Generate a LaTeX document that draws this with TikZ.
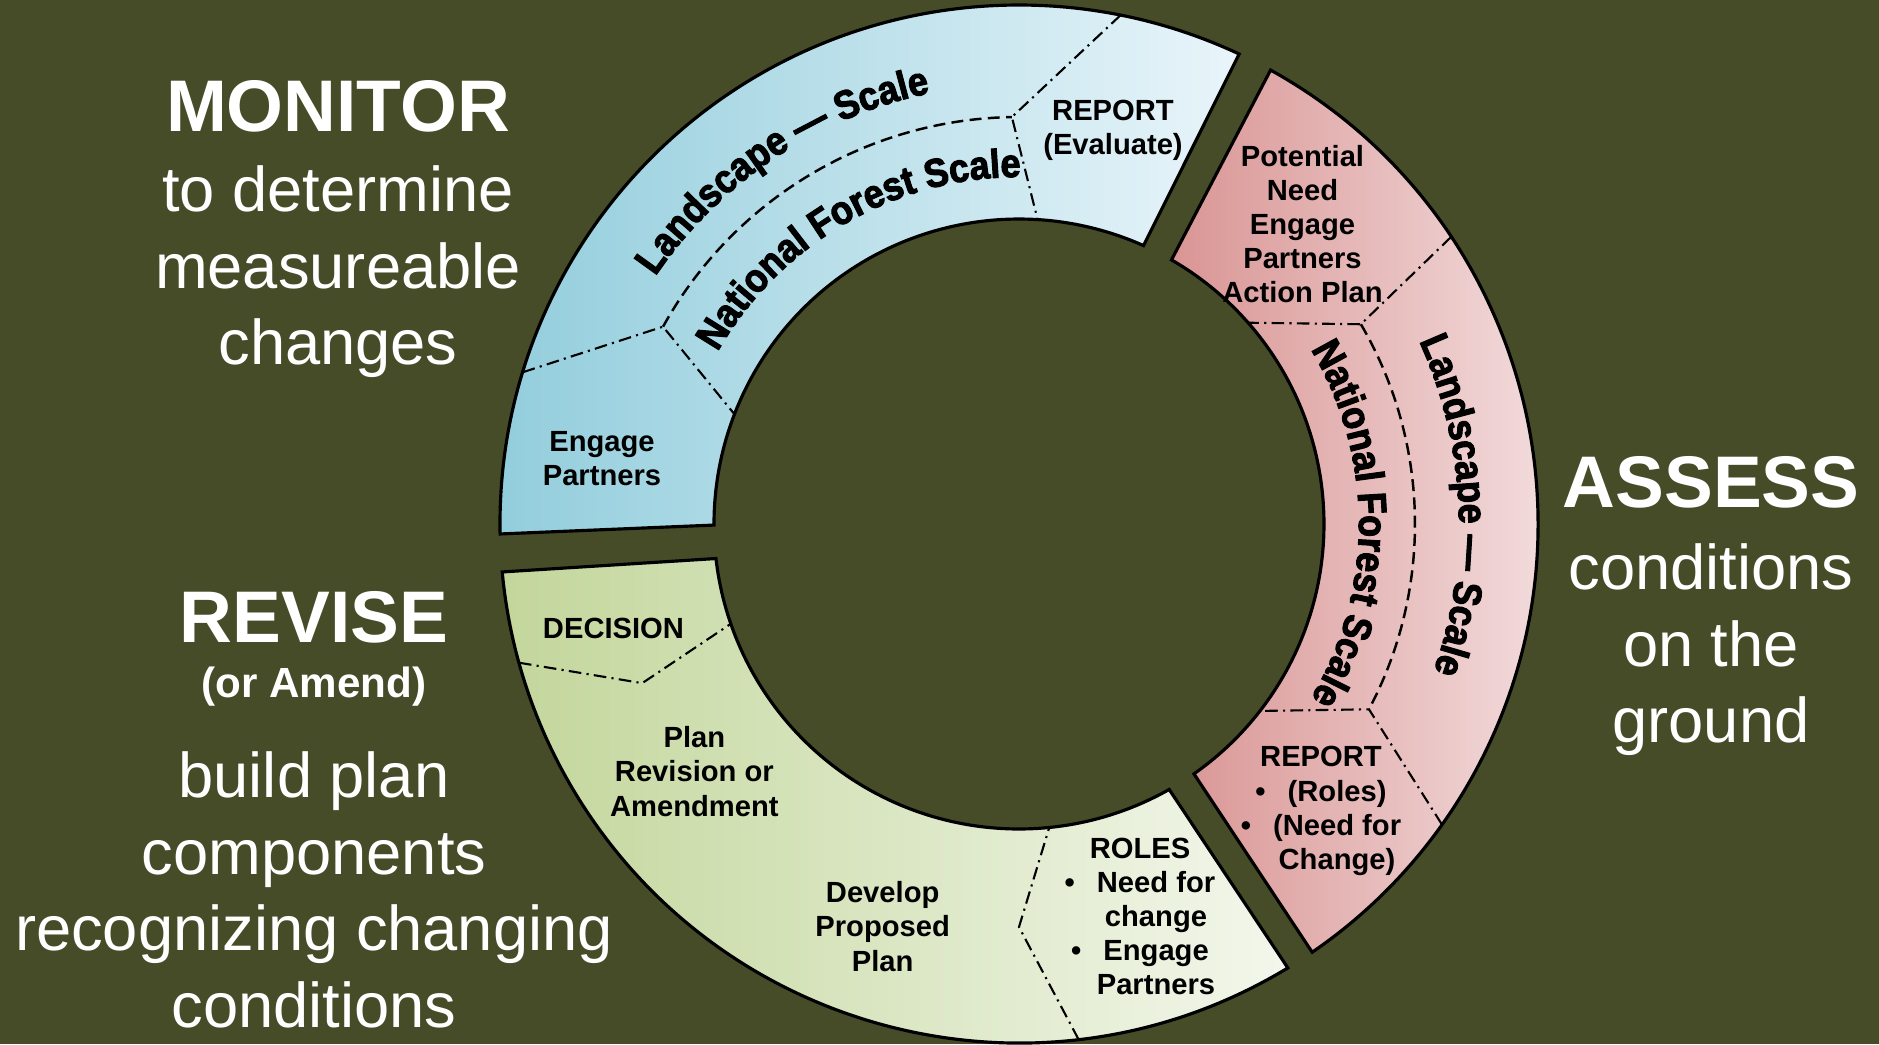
\documentclass[tikz,border=0pt]{standalone}
\usepackage{fontspec}
\setmainfont{Liberation Sans}
\newfontfamily\arcfamily{Liberation Sans}[FakeStretch=0.9, BoldFeatures={FakeBold=2.6}]
\usetikzlibrary{decorations.text}

\definecolor{olivebg}{RGB}{71,76,40}
\definecolor{blueleft}{RGB}{146,205,220}
\definecolor{blueright}{RGB}{233,245,250}
\definecolor{pinkleft}{RGB}{217,149,148}
\definecolor{pinkright}{RGB}{247,232,233}
\definecolor{greenleft}{RGB}{195,214,155}
\definecolor{greenright}{RGB}{243,247,236}

\newcommand{\rin}{3.05}
\newcommand{\rout}{5.19}
\newcommand{\arcfont}{\arcfamily\fontsize{11.4}{12}\selectfont\bfseries}

\tikzset{
  ringpart/.style={draw=black, line width=0.9pt},
  divider/.style={black, line width=0.6pt, dash pattern=on 3.6pt off 1.5pt on 0.6pt off 1.5pt},
  scaleline/.style={black, line width=0.7pt, dash pattern=on 3.4pt off 1.8pt},
  ringlabel/.style={align=center, inner sep=0pt, font=\fontsize{8.3}{9.7}\selectfont\bfseries},
  bigtitle/.style={white, inner sep=0pt, font=\fontsize{20.8}{24}\selectfont\bfseries},
  subtitle/.style={white, align=center, inner sep=0pt, font=\fontsize{18}{21.8}\selectfont},
  arctext/.style={decorate, decoration={text along path, text align=center, text={|\arcfont|#1}}}
}

\begin{document}
\begin{tikzpicture}
    \path[fill=olivebg, use as bounding box] (-10.19,-5.20) rectangle (8.60,5.24);

    % the three parts of the ring
    \draw[ringpart, left color=blueleft, right color=blueright]
        (181.1:\rout) arc[start angle=181.1, end angle=64.9, radius=\rout]
        -- (65.9:\rin) arc[start angle=65.9, end angle=180.2, radius=\rin] -- cycle;
    \draw[ringpart, left color=pinkleft, right color=pinkright]
        (61:\rout) arc[start angle=61, end angle=-55.6, radius=\rout]
        -- (-55:\rin) arc[start angle=-55, end angle=60, radius=\rin] -- cycle;
    \draw[ringpart, left color=greenleft, right color=greenright]
        (-58.8:\rout) arc[start angle=-58.8, end angle=-174.7, radius=\rout]
        -- (-173.5:\rin) arc[start angle=-173.5, end angle=-60.5, radius=\rin] -- cycle;

    % corners where the dividers meet
    \coordinate (reportcorner) at (91:4.07);
    \coordinate (engagecorner) at (151:4.07);
    \coordinate (needcorner) at (30.3:3.96);
    \coordinate (rolescorner) at (-27.9:3.96);
    \coordinate (decisioncorner) at (202.9:4.09);
    \coordinate (proposedcorner) at (270:4.03);

    \draw[scaleline] (engagecorner) arc[start angle=151, end angle=91, radius=4.07];
    \draw[scaleline] (needcorner) arc[start angle=30.3, end angle=-27.9, radius=3.96];

    \draw[divider] (78.7:\rout) -- (reportcorner) -- (86.5:\rin);
    \draw[divider] (163:\rout) -- (engagecorner) -- (158.9:\rin);
    \draw[divider] (33.6:\rout) -- (needcorner) -- (41.3:\rin);
    \draw[divider] (-35.4:\rout) -- (rolescorner) -- (-37.8:\rin);
    \draw[divider] (195.5:\rout) -- (decisioncorner) -- (199.1:\rin);
    \draw[divider] (276.6:\rout) -- (proposedcorner) -- (275.7:\rin);

    % scale names along the ring
    \path[arctext=Landscape — Scale] (158.7:4.40) arc[start angle=158.7, end angle=88.7, radius=4.40];
    \path[arctext=National Forest Scale] (160:3.47) arc[start angle=160, end angle=80, radius=3.47];
    \path[arctext=Landscape — Scale] (37.5:4.40) arc[start angle=37.5, end angle=-32.5, radius=4.40];
    \path[arctext=National Forest Scale] (40:3.40) arc[start angle=40, end angle=-40, radius=3.40];

    % labels in the ring
    \node[ringlabel] (evaluate) at (0.94,3.94) {REPORT\\(Evaluate)};
    \node[ringlabel] (engage) at (-4.17,0.65) {Engage\\Partners};
    \node[ringlabel] (potential) at (2.835,3.00) {Potential\\Need\\Engage\\Partners\\Action Plan};
    \node[ringlabel] (reportroles) at (3.02,-2.87)
        {REPORT\\\textbullet\hspace{0.22cm}(Roles)\\\textbullet\hspace{0.22cm}(Need for\\\hspace*{0.32cm}Change)};
    \node[ringlabel] (decision) at (-4.055,-1.04) {DECISION};
    \node[ringlabel] (revision) at (-3.246,-2.475) {Plan\\Revision or\\Amendment};
    \node[ringlabel] (proposed) at (-1.363,-4.025) {Develop\\Proposed\\Plan};
    \node[ringlabel] (roles) at (1.21,-3.925)
        {ROLES\\\textbullet\hspace{0.22cm}Need for\\\hspace*{0.32cm}change\\\textbullet\hspace{0.22cm}Engage\\\hspace*{0.32cm}Partners};

    % steps of the cycle
    \node[bigtitle] (monitor) at (-6.81,4.175) {MONITOR};
    \node[subtitle] (monitortext) at (-6.81,2.52) {to determine\\measureable\\changes};
    \node[bigtitle] (revise) at (-7.05,-0.93) {REVISE};
    \node[white, inner sep=0pt, font=\fontsize{12}{14}\selectfont\bfseries] (amend) at (-7.05,-1.63) {(or Amend)};
    \node[subtitle] (revisetext) at (-7.05,-3.66) {build plan\\components\\recognizing changing\\conditions};
    \node[bigtitle] (assess) at (6.92,0.42) {ASSESS};
    \node[subtitle] (assesstext) at (6.92,-1.26) {conditions\\on the\\ground};
\end{tikzpicture}
\end{document}
